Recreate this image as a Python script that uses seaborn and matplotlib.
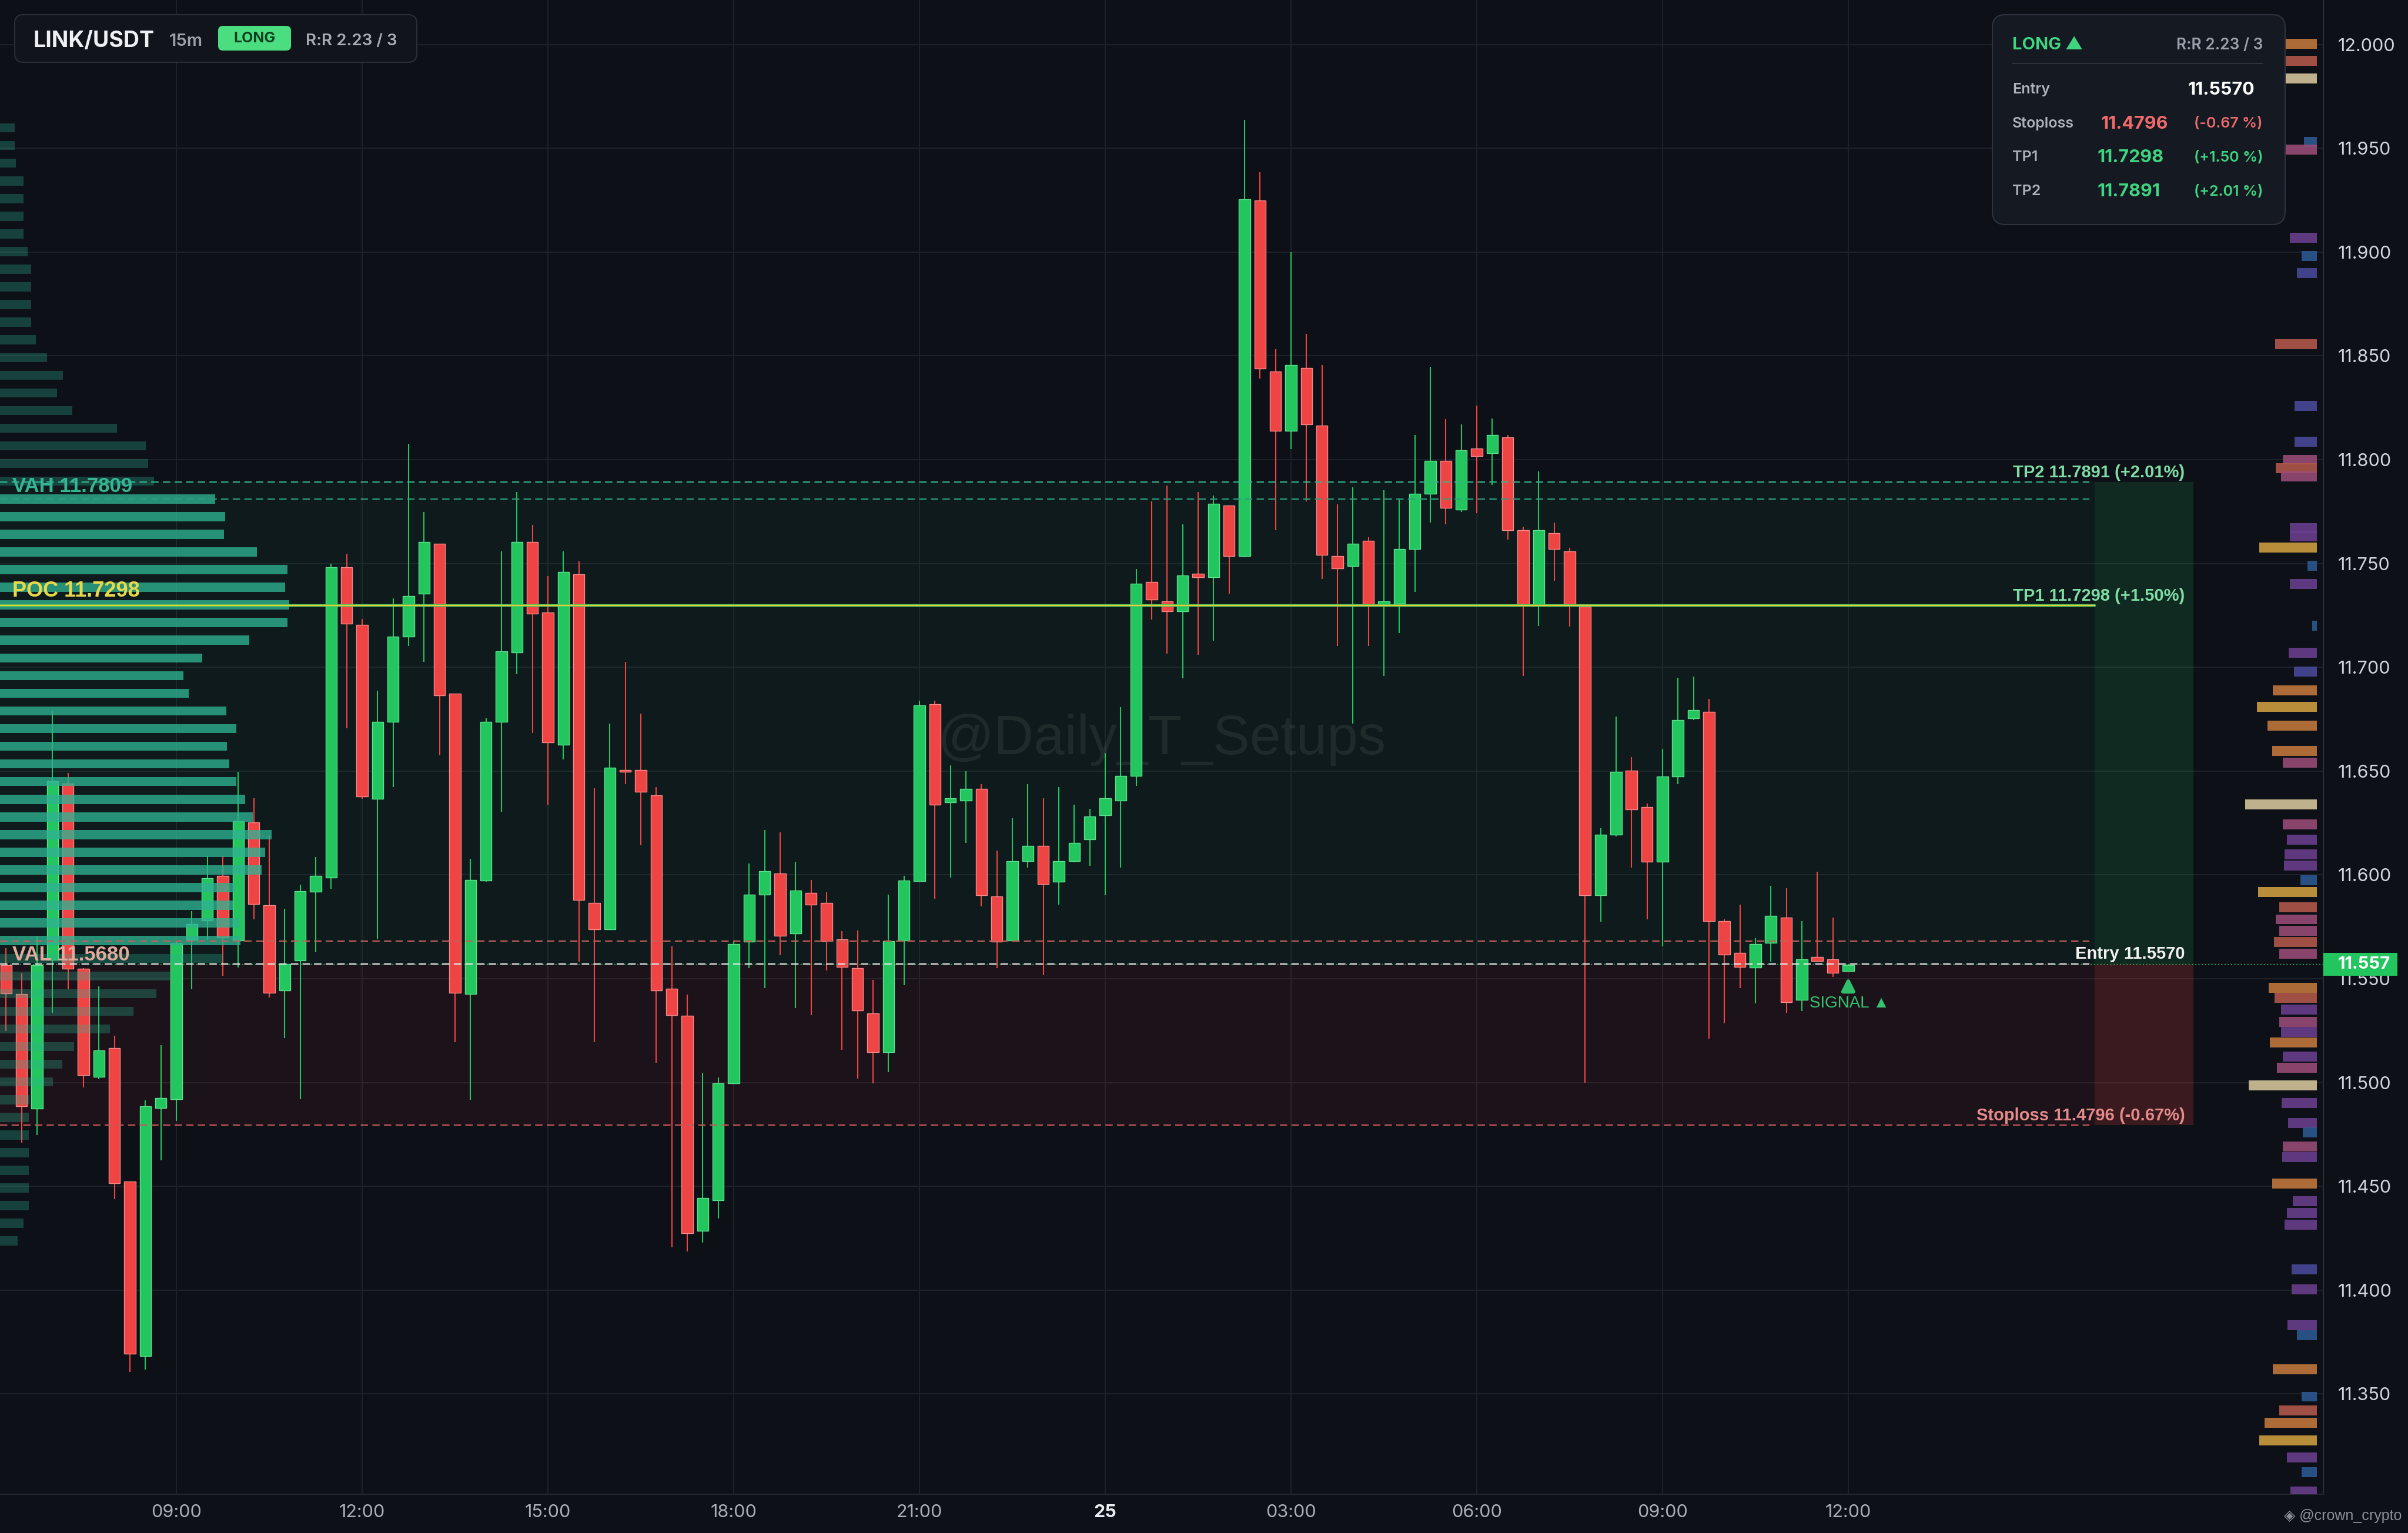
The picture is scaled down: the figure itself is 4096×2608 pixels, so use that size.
import numpy as np
import matplotlib
matplotlib.use("Agg")
import matplotlib.pyplot as plt
import matplotlib.transforms as mtransforms
from matplotlib.patches import FancyBboxPatch, Rectangle
import seaborn as sns

# 15m candles, 24th 06:15 -> 25th 12:00
opens = [11.5566, 11.5426, 11.4875, 11.5592, 11.6441, 11.5548, 11.5026, 11.5166, 11.4522, 11.3682,
         11.4877, 11.4919, 11.5688, 11.5781, 11.5996, 11.5685, 11.6252, 11.5855, 11.5443, 11.5588,
         11.5920, 11.5988, 11.7483, 11.7205, 11.6366, 11.6737, 11.7148, 11.7354, 11.7594, 11.6872,
         11.5427, 11.5973, 11.6737, 11.7070, 11.7605, 11.7265, 11.6626, 11.7448, 11.5866, 11.5737,
         11.6504, 11.6504, 11.6384, 11.5451, 11.5322, 11.4285, 11.4434, 11.4996, 11.5677, 11.5906,
         11.6006, 11.5717, 11.5913, 11.5866, 11.5689, 11.5551, 11.5333, 11.5147, 11.5684, 11.5969,
         11.6823, 11.6350, 11.6359, 11.6415, 11.5897, 11.5683, 11.6067, 11.6139, 11.5966, 11.6067,
         11.6170, 11.6287, 11.6359, 11.6478, 11.7411, 11.7317, 11.7270, 11.7452, 11.7433, 11.7779,
         11.7537, 11.9249, 11.8425, 11.8139, 11.8442, 11.8164, 11.7537, 11.7487, 11.7608, 11.7303,
         11.7305, 11.7570, 11.7836, 11.7995, 11.7760, 11.8055, 11.8030, 11.8108, 11.7659, 11.7300,
         11.7646, 11.7557, 11.7292, 11.5903, 11.6194, 11.6503, 11.6326, 11.6063, 11.6475, 11.6755,
         11.6785, 11.5778, 11.5624, 11.5553, 11.5674, 11.5794, 11.5397, 11.5604, 11.5594, 11.5538]
highs = [11.5648, 11.5526, 11.5703, 11.6791, 11.6492, 11.5550, 11.5463, 11.5226, 11.4522, 11.4915,
         11.5181, 11.5681, 11.5825, 11.6092, 11.6092, 11.6496, 11.6370, 11.6192, 11.5837, 11.5954,
         11.6085, 11.7499, 11.7547, 11.7232, 11.6888, 11.7332, 11.8076, 11.7747, 11.7594, 11.6872,
         11.6077, 11.6755, 11.7558, 11.7843, 11.7687, 11.7439, 11.7558, 11.7510, 11.6417, 11.6728,
         11.7026, 11.6777, 11.6424, 11.5655, 11.5424, 11.5047, 11.5025, 11.5682, 11.6055, 11.6217,
         11.6206, 11.6062, 11.5977, 11.5917, 11.5729, 11.5733, 11.5495, 11.5906, 11.5995, 11.6839,
         11.6839, 11.6528, 11.6500, 11.6437, 11.6117, 11.6274, 11.6437, 11.6369, 11.6422, 11.6337,
         11.6318, 11.6588, 11.6808, 11.7474, 11.7798, 11.7876, 11.7688, 11.7845, 11.7826, 11.7779,
         11.9636, 11.9384, 11.8531, 11.9000, 11.8607, 11.8455, 11.7785, 11.7866, 11.7626, 11.7853,
         11.7810, 11.8119, 11.8447, 11.8194, 11.8169, 11.8260, 11.8197, 11.8119, 11.7676, 11.7944,
         11.7696, 11.7575, 11.7292, 11.6226, 11.6764, 11.6567, 11.6345, 11.6607, 11.6949, 11.6956,
         11.6848, 11.5785, 11.5856, 11.5696, 11.5948, 11.5935, 11.5778, 11.6016, 11.5794, 11.5570]
lows = [11.5248, 11.4711, 11.4748, 11.5337, 11.5448, 11.4975, 11.5015, 11.4438, 11.3605, 11.3616,
        11.4626, 11.4815, 11.5448, 11.5688, 11.5515, 11.5554, 11.5785, 11.5408, 11.5215, 11.4919,
        11.5626, 11.5933, 11.6706, 11.6366, 11.5693, 11.6422, 11.7103, 11.7026, 11.6577, 11.5194,
        11.4916, 11.5966, 11.6304, 11.6966, 11.6684, 11.6337, 11.6555, 11.5582, 11.5194, 11.5737,
        11.6437, 11.6144, 11.5096, 11.4207, 11.4185, 11.4230, 11.4345, 11.4996, 11.5551, 11.5455,
        11.5613, 11.5358, 11.5324, 11.5540, 11.5156, 11.5018, 11.4996, 11.5051, 11.5469, 11.5969,
        11.5884, 11.5988, 11.6155, 11.5847, 11.5552, 11.5683, 11.6035, 11.5517, 11.5856, 11.6061,
        11.6045, 11.5903, 11.6035, 11.6428, 11.7229, 11.7066, 11.6946, 11.7059, 11.7128, 11.7355,
        11.7530, 11.8392, 11.7659, 11.8050, 11.7798, 11.7426, 11.7102, 11.6728, 11.7102, 11.6958,
        11.7166, 11.7363, 11.7696, 11.7689, 11.7747, 11.7742, 11.7878, 11.7616, 11.6958, 11.7198,
        11.7418, 11.7196, 11.4999, 11.5775, 11.6186, 11.6034, 11.5785, 11.5656, 11.6437, 11.6745,
        11.5212, 11.5286, 11.5456, 11.5382, 11.5582, 11.5335, 11.5345, 11.5585, 11.5508, 11.5536]
closes = [11.5430, 11.4886, 11.5566, 11.6452, 11.5548, 11.5037, 11.5155, 11.4515, 11.3694, 11.4886,
          11.4926, 11.5670, 11.5763, 11.5985, 11.5697, 11.6258, 11.5859, 11.5432, 11.5570, 11.5923,
          11.5996, 11.7483, 11.7210, 11.6377, 11.6737, 11.7148, 11.7343, 11.7605, 11.6866, 11.5433,
          11.5977, 11.6737, 11.7077, 11.7605, 11.7259, 11.6637, 11.7459, 11.5878, 11.5737, 11.6515,
          11.6498, 11.6399, 11.5444, 11.5324, 11.4274, 11.4445, 11.4996, 11.5666, 11.5906, 11.6017,
          11.5706, 11.5924, 11.5857, 11.5680, 11.5558, 11.5347, 11.5147, 11.5680, 11.5973, 11.6817,
          11.6339, 11.6368, 11.6415, 11.5903, 11.5677, 11.6067, 11.6139, 11.5957, 11.6067, 11.6155,
          11.6280, 11.6368, 11.6478, 11.7402, 11.7326, 11.7270, 11.7443, 11.7433, 11.7788, 11.7537,
          11.9255, 11.8439, 11.8139, 11.8455, 11.8169, 11.7540, 11.7477, 11.7595, 11.7300, 11.7317,
          11.7570, 11.7836, 11.7995, 11.7767, 11.8045, 11.8017, 11.8119, 11.7659, 11.7300, 11.7659,
          11.7570, 11.7300, 11.5902, 11.6194, 11.6497, 11.6315, 11.6063, 11.6475, 11.6745, 11.6793,
          11.5778, 11.5615, 11.5556, 11.5668, 11.5804, 11.5387, 11.5594, 11.5585, 11.5527, 11.5564]

time_labels = ['09:00', '12:00', '15:00', '18:00', '21:00', '25', '03:00', '06:00', '09:00', '12:00']
time_label_idx = [11, 23, 35, 47, 59, 71, 83, 95, 107, 119]
price_ticks = [11.35, 11.40, 11.45, 11.50, 11.55, 11.60, 11.65, 11.70, 11.75, 11.80, 11.85, 11.90, 11.95, 12.00]

entry = 11.5570
stoploss = 11.4796
tp1 = 11.7298
tp2 = 11.7891
poc = 11.7298
vah = 11.7809
val = 11.5680
last_price = 11.557

# session volume profile (left), bins from the top down
vp_top = 11.9598
vp_step = 0.00851
vp_volume = [25, 25, 27, 40, 40, 40, 40, 47, 53, 53, 53, 53, 61, 80, 107, 97, 123, 199, 248, 252,
             262, 366, 383, 381, 437, 489, 485, 492, 489, 424, 344, 312, 321, 385, 402, 386, 390, 402,
             417, 430, 462, 451, 445, 400, 396, 407, 409, 379, 289, 266, 227, 187, 126, 106, 90, 50,
             49, 49, 49, 49, 49, 49, 40, 30]

# coloured depth profile next to the price scale
rvp_price = [12.0002, 11.9922, 11.9837, 11.9530, 11.9494, 11.9070, 11.8980, 11.8900, 11.8556, 11.8260,
             11.8085, 11.8000, 11.7960, 11.7920, 11.7670, 11.7630, 11.7576, 11.7490, 11.7400, 11.7200,
             11.7070, 11.6980, 11.6890, 11.6810, 11.6720, 11.6596, 11.6540, 11.6340, 11.6243, 11.6170,
             11.6100, 11.6045, 11.5975, 11.5918, 11.5843, 11.5786, 11.5730, 11.5678, 11.5621, 11.5456,
             11.5409, 11.5352, 11.5291, 11.5244, 11.5192, 11.5126, 11.5070, 11.4985, 11.4900, 11.4806,
             11.4759, 11.4693, 11.4641, 11.4514, 11.4429, 11.4373, 11.4316, 11.4099, 11.4005, 11.3830,
             11.3784, 11.3619, 11.3487, 11.3421, 11.3360, 11.3275, 11.3195, 11.3124, 11.3030]
rvp_volume = [54, 54, 54, 22, 54, 46, 26, 34, 71, 38, 38, 58, 70, 61, 46, 46, 98, 16, 46, 8,
              48, 39, 75, 102, 84, 76, 58, 122, 58, 51, 55, 56, 28, 100, 64, 70, 64, 73, 64, 82,
              72, 61, 64, 61, 80, 58, 68, 116, 60, 49, 24, 58, 59, 76, 41, 51, 55, 43, 43, 50,
              34, 75, 26, 64, 89, 98, 51, 26, 45]
rvp_kind = ['orange', 'salmon', 'beige', 'blue', 'pink', 'purple', 'blue', 'indigo', 'salmon', 'indigo',
            'indigo', 'pink', 'salmon', 'pink', 'purple', 'purple', 'gold', 'blue', 'purple', 'blue',
            'purple', 'indigo', 'orange', 'gold', 'orange', 'orange', 'pink', 'beige', 'pink', 'purple',
            'purple', 'purple', 'blue', 'gold', 'salmon', 'pink', 'pink', 'salmon', 'pink', 'orange',
            'salmon', 'purple', 'pink', 'purple', 'orange', 'purple', 'pink', 'beige', 'purple', 'purple',
            'blue', 'pink', 'purple', 'orange', 'purple', 'purple', 'purple', 'indigo', 'purple', 'purple',
            'blue', 'orange', 'blue', 'salmon', 'orange', 'gold', 'purple', 'blue', 'purple']

RVP_COLORS = {'orange': '#c47a3c', 'salmon': '#b4584b', 'beige': '#d8c89c', 'gold': '#d1a03f',
              'purple': '#6b3f8e', 'pink': '#9b4c78', 'blue': '#2e5a92', 'indigo': '#4a4a9c'}

BG = '#0d1017'
GRID = '#1e222a'
UP = '#22c55e'
DOWN = '#ef4444'
UP_EDGE = '#5ee08f'
DOWN_EDGE = '#f58a8a'
TEAL = '#2fb393'

W_PX, H_PX, DPI = 4096, 2608, 100

sns.set_theme(style='dark', rc={'axes.facecolor': BG, 'figure.facecolor': BG,
                                'grid.color': GRID, 'axes.edgecolor': '#2a2e38'})
plt.rcParams['font.family'] = ['Inter', 'DejaVu Sans']
LBL_FONT = ['Liberation Sans', 'DejaVu Sans']

fig = plt.figure(figsize=(W_PX / DPI, H_PX / DPI), dpi=DPI)
ax = fig.add_axes([0, 1 - 2542 / H_PX, 3952 / W_PX, 2542 / H_PX])
ax.set_facecolor(BG)

xmin, xmax = -0.395, 149.69
ax.set_xlim(xmin, xmax)
ax.set_ylim(11.3017, 12.0214)
span = xmax - xmin

x = np.arange(len(opens))
o = np.array(opens)
c = np.array(closes)
hi = np.array(highs)
lo = np.array(lows)
up = c >= o

# trade zones
zone_end, box_end, line_end = 134.9, 141.3, 134.56
ax.fill_between([xmin, zone_end], entry, tp2, color=UP, alpha=0.06, lw=0, zorder=1)
ax.fill_between([xmin, zone_end], stoploss, entry, color=DOWN, alpha=0.07, lw=0, zorder=1)
ax.fill_between([zone_end, box_end], entry, tp2, color=UP, alpha=0.15, lw=0, zorder=1)
ax.fill_between([zone_end, box_end], stoploss, entry, color=DOWN, alpha=0.2, lw=0, zorder=1)

ax.text(0.5, 0.505, '@Daily_T_Setups', transform=ax.transAxes, ha='center', va='center',
        fontsize=68, color='white', alpha=0.07, family=LBL_FONT, zorder=1.5)

# candles
ax.vlines(x, lo, hi, colors=np.where(up, UP, DOWN), lw=1.5, zorder=3)
body = np.maximum(np.abs(c - o), 0.0008)
ax.bar(x, body, bottom=np.minimum(o, c), width=0.74, color=np.where(up, UP, DOWN),
       edgecolor=np.where(up, UP_EDGE, DOWN_EDGE), linewidth=1.0, zorder=3.2)

# left volume profile
vp_vol = np.array(vp_volume, dtype=float)
vp_price = vp_top - vp_step * np.arange(len(vp_vol))
in_va = (vp_price >= val - vp_step / 2) & (vp_price <= vah + vp_step / 2)
vp_w = vp_vol / vp_vol.max() * 0.1245 * span
ax.barh(vp_price[in_va], vp_w[in_va], left=xmin, height=0.0044, color=TEAL, alpha=0.78, lw=0, zorder=4)
ax.barh(vp_price[~in_va], vp_w[~in_va], left=xmin, height=0.0044, color=TEAL, alpha=0.3, lw=0, zorder=4)

# right depth profile
rv = np.array(rvp_volume, dtype=float)
rw = rv / rv.max() * 0.0309 * span
r_edge = xmin + 0.99722 * span
ax.barh(rvp_price, rw, left=r_edge - rw, height=0.0048,
        color=[RVP_COLORS[k] for k in rvp_kind], alpha=0.88, lw=0, zorder=4)

# levels
dash = (6, 3.5)
ax.plot([xmin, line_end], [tp2, tp2], color='#34b58c', lw=1.5, dashes=dash, zorder=5)
ax.plot([xmin, line_end], [vah, vah], color='#2e9e7e', lw=1.5, dashes=dash, zorder=5)
ax.plot([xmin, zone_end], [tp1, tp1], color='#4cc46a', lw=3.2, zorder=5)
ax.plot([xmin, zone_end], [poc, poc], color='#e3d02a', lw=1.6, zorder=5.1)
ax.plot([xmin, line_end], [val, val], color='#c0605a', lw=1.5, dashes=dash, zorder=5)
ax.plot([xmin, xmax], [last_price, last_price], color=UP, lw=1.0, dashes=(1.5, 2.5), zorder=4.9)
ax.plot([xmin, line_end], [entry, entry], color='#e8e8e8', lw=1.5, dashes=dash, zorder=5.2)
ax.plot([xmin, line_end], [stoploss, stoploss], color='#c25a5a', lw=1.5, dashes=dash, zorder=5)

# level labels
lx = 0.40
ax.text(lx, vah + 0.0061, f'VAH {vah:.4f}', color='#35b592', fontsize=25, fontweight='bold',
        family=LBL_FONT, va='center', ha='left', zorder=6)
ax.text(lx, poc + 0.0069, f'POC {poc:.4f}', color='#e8d94a', fontsize=26, fontweight='bold',
        family=LBL_FONT, va='center', ha='left', zorder=6)
ax.text(lx, val - 0.0065, f'VAL {val:.4f}', color='#e2aa9c', fontsize=25, fontweight='bold',
        family=LBL_FONT, va='center', ha='left', zorder=6)

rx = 140.74
ax.text(rx, tp2 + 0.0046, f'TP2 {tp2:.4f} (+2.01%)', color='#7fdca4', fontsize=21,
        fontweight='bold', family=LBL_FONT, va='center', ha='right', zorder=6)
ax.text(rx, tp1 + 0.0046, f'TP1 {tp1:.4f} (+1.50%)', color='#7fdca4', fontsize=21,
        fontweight='bold', family=LBL_FONT, va='center', ha='right', zorder=6)
ax.text(rx, entry + 0.0049, f'Entry {entry:.4f}', color='#f0f0f0', fontsize=21,
        fontweight='bold', family=LBL_FONT, va='center', ha='right', zorder=6)
ax.text(rx, stoploss + 0.0045, f'Stoploss {stoploss:.4f} (-0.67%)', color='#e58a8a', fontsize=21,
        fontweight='bold', family=LBL_FONT, va='center', ha='right', zorder=6)

# signal marker on the last candle
ax.annotate('', xy=(x[-1], 11.5515), xytext=(x[-1], 11.5440),
            arrowprops=dict(arrowstyle='-|>', color='#2fbf6a', lw=4.5, mutation_scale=32), zorder=6)
ax.text(116.5, 11.5382, 'SIGNAL ▲', color='#34c46f', fontsize=20, family=LBL_FONT,
        va='center', ha='left', zorder=6)

# axes
ax.set_xticks(time_label_idx)
ax.set_xticklabels(time_labels)
ax.set_yticks(price_ticks)
ax.set_yticklabels([f'{p:.3f}' for p in price_ticks])
ax.yaxis.tick_right()
ax.grid(True, color=GRID, lw=1.4)
ax.tick_params(axis='y', length=0, pad=18, labelsize=22, labelcolor='#d1d4da')
ax.tick_params(axis='x', length=0, pad=12, labelsize=22, labelcolor='#a9adb5')
lbl25 = ax.get_xticklabels()[5]
lbl25.set_fontweight('bold')
lbl25.set_color('#eceef2')
sns.despine(ax=ax, left=True, top=True, right=False, bottom=False)
ax.spines['right'].set_color('#2a2e38')
ax.spines['right'].set_linewidth(1.5)
ax.spines['bottom'].set_color('#22262e')
ax.spines['bottom'].set_linewidth(1.5)

# last price badge
bt = mtransforms.blended_transform_factory(ax.transAxes, ax.transData)
ax.add_patch(Rectangle((1.0, last_price - 0.0055), 126 / 3952, 0.011, transform=bt,
                       facecolor=UP, edgecolor='none', clip_on=False, zorder=10))
ax.text(1 + 25 / 3952, last_price, f'{last_price:.3f}', transform=bt, color='white',
        fontsize=21, fontweight='bold', va='center', ha='left', clip_on=False, zorder=11)


def fpos(xp, yp):
    return xp / DPI, (H_PX - yp) / DPI


tr = fig.dpi_scale_trans

# header box
hx, hy = fpos(25, 106)
fig.add_artist(FancyBboxPatch((hx, hy), 684 / DPI, 81 / DPI, boxstyle='round,pad=0,rounding_size=0.15',
                              transform=tr, facecolor='#11141a', edgecolor='#2a2e37', lw=1.5))
fig.text(*fpos(57, 70), 'LINK/USDT', transform=tr, fontsize=27, fontweight='bold',
         color='#eef0f4', va='center', ha='left')
fig.text(*fpos(288, 70), '15m', transform=tr, fontsize=21, fontweight='semibold',
         color='#9aa0a9', va='center', ha='left')
px_, py_ = fpos(371, 86)
fig.add_artist(FancyBboxPatch((px_, py_), 124 / DPI, 42 / DPI, boxstyle='round,pad=0,rounding_size=0.08',
                              transform=tr, facecolor='#4ade80', edgecolor='none'))
fig.text(*fpos(433, 66), 'LONG', transform=tr, fontsize=18, fontweight='bold',
         color='#0b3d1e', va='center', ha='center')
fig.text(*fpos(520, 70), 'R:R 2.23 / 3', transform=tr, fontsize=20, fontweight='semibold',
         color='#a5abb5', va='center', ha='left')

# trade info box
bx, by = fpos(3389, 382)
fig.add_artist(FancyBboxPatch((bx, by), 498 / DPI, 357 / DPI, boxstyle='round,pad=0,rounding_size=0.22',
                              transform=tr, facecolor='#151a22', edgecolor='#2d323c', lw=1.5))
fig.text(*fpos(3423, 77), 'LONG ▲', transform=tr, fontsize=21, fontweight='bold',
         color='#3fd47f', va='center', ha='left')
fig.text(*fpos(3849, 77), 'R:R 2.23 / 3', transform=tr, fontsize=19, fontweight='semibold',
         color='#9ba1ab', va='center', ha='right')
sx0, sy0 = fpos(3423, 108)
sx1, _ = fpos(3849, 108)
fig.add_artist(plt.Line2D([sx0, sx1], [sy0, sy0], transform=tr, color='#2d323c', lw=1.5))

rows = [('Entry', 153), ('Stoploss', 211), ('TP1', 268), ('TP2', 326)]
for name, yp in rows:
    fig.text(*fpos(3423, yp), name, transform=tr, fontsize=18, fontweight='semibold',
             color='#aeb3bb', va='center', ha='left')
fig.text(*fpos(3835, 153), f'{entry:.4f}', transform=tr, fontsize=22, fontweight='bold',
         color='#ffffff', va='center', ha='right')
fig.text(*fpos(3574, 211), f'{stoploss:.4f}', transform=tr, fontsize=22, fontweight='bold',
         color='#f06a6a', va='center', ha='left')
fig.text(*fpos(3849, 211), '(-0.67 %)', transform=tr, fontsize=18, fontweight='semibold',
         color='#e86a6a', va='center', ha='right')
fig.text(*fpos(3568, 268), f'{tp1:.4f}', transform=tr, fontsize=22, fontweight='bold',
         color='#3fd47f', va='center', ha='left')
fig.text(*fpos(3849, 268), '(+1.50 %)', transform=tr, fontsize=18, fontweight='semibold',
         color='#3fd47f', va='center', ha='right')
fig.text(*fpos(3568, 326), f'{tp2:.4f}', transform=tr, fontsize=22, fontweight='bold',
         color='#3fd47f', va='center', ha='left')
fig.text(*fpos(3849, 326), '(+2.01 %)', transform=tr, fontsize=18, fontweight='semibold',
         color='#3fd47f', va='center', ha='right')

fig.text(*fpos(4085, 2579), '◈ @crown_crypto', transform=tr, fontsize=18,
         color='#8b9098', va='center', ha='right', family=LBL_FONT)

fig.savefig('out.png', dpi=DPI, facecolor=BG)
